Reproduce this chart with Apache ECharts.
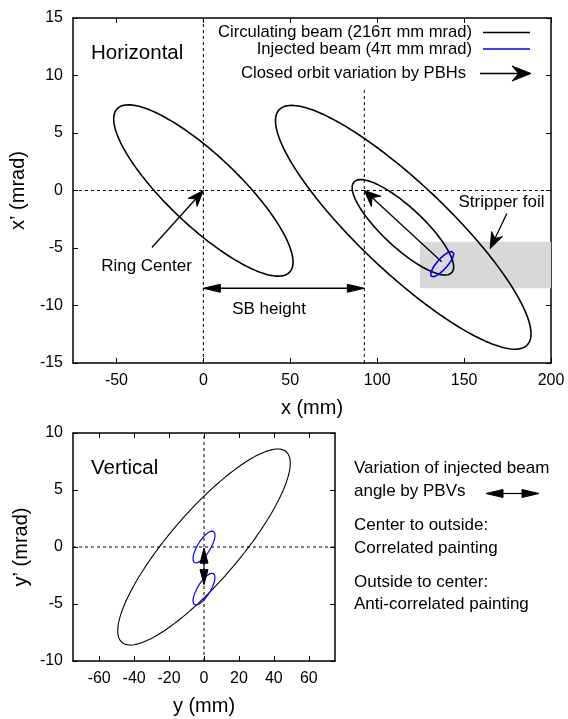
<!DOCTYPE html>
<html><head><meta charset="utf-8">
<script src="https://cdn.jsdelivr.net/npm/echarts@6/dist/echarts.min.js"></script>
<style>html,body{margin:0;padding:0;background:#fff}#c{width:568px;height:719px}</style>
</head><body><div id="c"></div>
<script>
// ---------------- data ----------------
// Horizontal phase space: circulating-beam ellipses (centre, half widths, correlation alpha)
const H_CIRC_CX    = [0, 115, 114.8];
const H_CIRC_CY    = [0, -3.2, -3.2];
const H_CIRC_HX    = [51.6, 73.5, 29.2];
const H_CIRC_HY    = [7.45, 10.6, 4.15];
const H_CIRC_ALPHA = [1.52, 1.8, 1.5];
// Horizontal: injected beam ellipse
const H_INJ_CX    = [137.4];
const H_INJ_CY    = [-6.4];
const H_INJ_HX    = [6.6];
const H_INJ_HY    = [1.1];
const H_INJ_ALPHA = [-1.4];
// Horizontal: stripper foil region [x1, y1, x2, y2]
const H_FOIL = [[124.6, -4.45, 200, -8.5]];
// Horizontal: arrows [xFrom, yFrom, xTo, yTo]
const H_ARROWS = [
  [137.1, -6.2, 92.6, 0],     // closed orbit variation
  [-29.6, -4.96, 0, 0],       // ring center
  [174.6, -2.0, 165, -5.05],  // stripper foil
  [0, -8.5, 92.6, -8.5]       // SB height
];
// Horizontal guide lines
const H_GUIDE_V = [[0, -15, 0, 15], [92.6, -15, 92.6, 9]];
const H_GUIDE_H = [[-75, 0, 200, 0]];

// Vertical phase space
const V_CIRC_CX    = [0];
const V_CIRC_CY    = [0];
const V_CIRC_HX    = [49.4];
const V_CIRC_HY    = [8.6];
const V_CIRC_ALPHA = [-1.65];
const V_INJ_CX    = [0, 0];
const V_INJ_CY    = [0, -3.7];
const V_INJ_HX    = [6.3, 6.3];
const V_INJ_HY    = [1.4, 1.4];
const V_INJ_ALPHA = [-1.1, -1.1];
const V_ARROWS = [[0, -0.1, 0, -3.3]];
const V_GUIDE = [[0, -10, 0, 10], [-75, 0, 75, 0]];

// Axis ticks
const H_X_TICKS = [-50, 0, 50, 100, 150, 200];
const V_X_TICKS = [-60, -40, -20, 0, 20, 40, 60];

// ---------------- styles ----------------
const FONT = '"Liberation Sans", Arial, Helvetica, sans-serif';
const H_ARROW_HEADS = [
  {L: 16, W: 7, notch: 0.35, both: false},
  {L: 16, W: 6, notch: 0.3, both: false},
  {L: 16, W: 6, notch: 0.3, both: false},
  {L: 17, W: 4, notch: 0, both: true}
];
const V_ARROW_HEADS = [{L: 15, W: 4, notch: 0, both: true}];

function ellipse(cx, cy, hx, hy, a) {
  const k = hy / Math.sqrt(1 + a * a), pts = [], n = 360;
  for (let i = 0; i <= n; i++) {
    const t = 2 * Math.PI * i / n;
    pts.push([cx + hx * Math.cos(t), cy - k * (a * Math.cos(t) + Math.sin(t))]);
  }
  return pts;
}

function head(tip, u, h) {
  const nx = -u[1], ny = u[0];
  const bx = tip[0] - u[0] * h.L, by = tip[1] - u[1] * h.L;
  const mx = tip[0] - u[0] * h.L * (1 - h.notch), my = tip[1] - u[1] * h.L * (1 - h.notch);
  return {type: 'polygon', shape: {points: [tip, [bx + nx * h.W, by + ny * h.W], [mx, my], [bx - nx * h.W, by - ny * h.W]]},
          style: {fill: '#000', stroke: '#000', lineWidth: 1}};
}
function arrowChildren(p1, p2, h, lw) {
  const dx = p2[0] - p1[0], dy = p2[1] - p1[1], len = Math.hypot(dx, dy);
  const u = [dx / len, dy / len];
  const back = h.L * (1 - h.notch) * 0.9;
  const s = h.both ? [p1[0] + u[0] * back, p1[1] + u[1] * back] : p1;
  const e = [p2[0] - u[0] * back, p2[1] - u[1] * back];
  const ch = [{type: 'line', shape: {x1: s[0], y1: s[1], x2: e[0], y2: e[1]}, style: {stroke: '#000', lineWidth: lw}}];
  ch.push(head(p2, u, h));
  if (h.both) ch.push(head(p1, [-u[0], -u[1]], h));
  return ch;
}

const series = [];
function addEllipses(cx, cy, hx, hy, al, color, lw, gi) {
  for (let i = 0; i < cx.length; i++) {
    series.push({type: 'line', xAxisIndex: gi * 2, yAxisIndex: gi * 2, data: ellipse(cx[i], cy[i], hx[i], hy[i], al[i]),
      showSymbol: false, symbol: 'none', smooth: false, lineStyle: {color, width: lw}, z: 4, silent: true});
  }
}
function addGuides(arr, gi) {
  arr.forEach(g => series.push({type: 'line', xAxisIndex: gi * 2, yAxisIndex: gi * 2, data: [[g[0], g[1]], [g[2], g[3]]],
    showSymbol: false, symbol: 'none', lineStyle: {color: '#000', width: 1, type: [3, 3]}, z: 3, silent: true}));
}
function addArrows(arr, heads, gi, lw) {
  series.push({type: 'custom', xAxisIndex: gi * 2, yAxisIndex: gi * 2, data: arr, encode: {x: [0, 2], y: [1, 3]}, z: 6, silent: true, clip: false,
    renderItem: (params, api) => {
      const p1 = api.coord([api.value(0), api.value(1)]), p2 = api.coord([api.value(2), api.value(3)]);
      return {type: 'group', children: arrowChildren(p1, p2, heads[params.dataIndex], lw)};
    }});
}

// foil
series.push({type: 'custom', xAxisIndex: 0, yAxisIndex: 0, data: H_FOIL, encode: {x: [0, 2], y: [1, 3]}, z: 1, silent: true,
  renderItem: (params, api) => {
    const a = api.coord([api.value(0), api.value(1)]), b = api.coord([api.value(2), api.value(3)]);
    return {type: 'rect', shape: {x: Math.min(a[0], b[0]), y: Math.min(a[1], b[1]), width: Math.abs(b[0] - a[0]), height: Math.abs(b[1] - a[1])},
      style: {fill: '#d8d8d8'}};
  }});
addGuides(H_GUIDE_V, 0); addGuides(H_GUIDE_H, 0);
addEllipses(H_CIRC_CX, H_CIRC_CY, H_CIRC_HX, H_CIRC_HY, H_CIRC_ALPHA, '#000', 1.6, 0);
addEllipses(H_INJ_CX, H_INJ_CY, H_INJ_HX, H_INJ_HY, H_INJ_ALPHA, '#0000ff', 1.6, 0);
addArrows(H_ARROWS, H_ARROW_HEADS, 0, 1.3);
addGuides(V_GUIDE, 1);
addEllipses(V_CIRC_CX, V_CIRC_CY, V_CIRC_HX, V_CIRC_HY, V_CIRC_ALPHA, '#000', 1.1, 1);
addEllipses(V_INJ_CX, V_INJ_CY, V_INJ_HX, V_INJ_HY, V_INJ_ALPHA, '#0000ff', 1.2, 1);
addArrows(V_ARROWS, V_ARROW_HEADS, 1, 1.2);

const axLine = {show: true, onZero: false, lineStyle: {color: '#000', width: 1.5}};
const lbl = {color: '#000', fontSize: 16, fontFamily: FONT, margin: 10};
const nameStyle = {color: '#000', fontSize: 20, fontFamily: FONT};
function xAx(grid, min, max, ticks, pos, name) {
  return {type: 'value', gridIndex: grid, position: pos, min, max, axisLine: axLine, splitLine: {show: false},
    axisTick: {show: true, inside: true, length: 5, customValues: ticks, lineStyle: {color: '#000', width: 1}},
    axisLabel: name ? Object.assign({customValues: ticks}, lbl) : {show: false},
    name: name || '', nameLocation: 'middle', nameGap: 35, nameTextStyle: nameStyle};
}
function yAx(grid, min, max, pos, name) {
  return {type: 'value', gridIndex: grid, position: pos, min, max, interval: 5, axisLine: axLine, splitLine: {show: false},
    axisTick: {show: true, inside: true, length: 5, lineStyle: {color: '#000', width: 1}},
    axisLabel: name ? lbl : {show: false},
    name: name || '', nameLocation: 'middle', nameGap: 42, nameTextStyle: nameStyle};
}

function txt(x, y, text, size, align) {
  return {type: 'text', x, y, z: 100, style: {text, fill: '#000', font: size + 'px ' + FONT, textAlign: align || 'left', textVerticalAlign: 'middle'}};
}
const graphics = [
  txt(91, 53, 'Horizontal', 20.5),
  txt(472, 32.5, 'Circulating beam (216\u03c0 mm mrad)', 16.6, 'right'),
  txt(472, 49, 'Injected beam (4\u03c0 mm mrad)', 16.6, 'right'),
  txt(466, 73.5, 'Closed orbit variation by PBHs', 16.6, 'right'),
  {type: 'line', shape: {x1: 483, y1: 32.5, x2: 530, y2: 32.5}, style: {stroke: '#000', lineWidth: 1.6}},
  {type: 'line', shape: {x1: 483, y1: 49, x2: 530, y2: 49}, style: {stroke: '#0000ff', lineWidth: 1.6}},
  {type: 'group', children: arrowChildren([480, 73.5], [531, 73.5], {L: 19, W: 7.5, notch: 0.35, both: false}, 1.5)},
  txt(146.5, 266, 'Ring Center', 17, 'center'),
  txt(269, 309, 'SB height', 17, 'center'),
  txt(501.5, 202.5, 'Stripper foil', 17, 'center'),
  txt(91, 468, 'Vertical', 20.5),
  txt(354, 468.5, 'Variation of injected beam', 17),
  txt(354, 491, 'angle by PBVs', 17),
  {type: 'group', children: arrowChildren([486, 493.5], [539, 493.5], {L: 17, W: 4, notch: 0, both: true}, 1.2)},
  txt(354, 525, 'Center to outside:', 17),
  txt(354, 548.5, 'Correlated painting', 17),
  txt(354, 582, 'Outside to center:', 17),
  txt(354, 604.5, 'Anti-correlated painting', 17)
];

const chart = echarts.init(document.getElementById('c'), null, {renderer: 'canvas'});
chart.setOption({
  animation: false,
  backgroundColor: '#fff',
  textStyle: {fontFamily: FONT},
  grid: [
    {left: 73, top: 18, width: 478, height: 345, containLabel: false},
    {left: 73, top: 433, width: 262, height: 228, containLabel: false}
  ],
  xAxis: [
    xAx(0, -75, 200, H_X_TICKS, 'bottom', 'x (mm)'),
    xAx(0, -75, 200, H_X_TICKS, 'top', null),
    xAx(1, -75, 75, V_X_TICKS, 'bottom', 'y (mm)'),
    xAx(1, -75, 75, V_X_TICKS, 'top', null)
  ],
  yAxis: [
    yAx(0, -15, 15, 'left', 'x\u2019 (mrad)'),
    yAx(0, -15, 15, 'right', null),
    yAx(1, -10, 10, 'left', 'y\u2019 (mrad)'),
    yAx(1, -10, 10, 'right', null)
  ],
  series,
  graphic: graphics
});
</script></body></html>
